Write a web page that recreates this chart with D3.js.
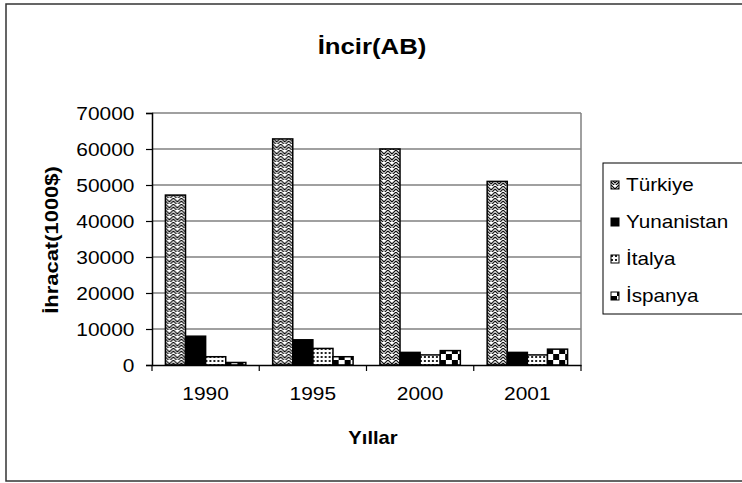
<!DOCTYPE html>
<html>
<head>
<meta charset="utf-8">
<script src="https://cdn.jsdelivr.net/npm/d3@7"></script>
<style>
  body { margin: 0; background: #fff; }
  text { font-family: Arial, "Liberation Sans", sans-serif; fill: #000; }
</style>
</head>
<body>
<svg id="chart" width="742" height="483"></svg>
<script>
const years = ['1990', '1995', '2000', '2001']
const seriesNames = ['Türkiye', 'Yunanistan', 'İtalya', 'İspanya']
const turkiye = [47200, 62800, 60000, 51000]
const yunanistan = [8000, 7000, 3500, 3500]
const italya = [2300, 4600, 2800, 2800]
const ispanya = [700, 2300, 4000, 4400]
const yTicks = [0, 10000, 20000, 30000, 40000, 50000, 60000, 70000]

const values = [turkiye, yunanistan, italya, ispanya]
const SX = 1.1 // the original glyphs are a bit wider than Arial

const svg = d3.select('#chart')
const margin = { top: 113, right: 161, bottom: 118, left: 152 }
const width = 742, height = 483

// patterns
const defs = svg.append('defs')
const weave = defs.append('pattern').attr('id', 'p0')
  .attr('patternUnits', 'userSpaceOnUse').attr('width', 8).attr('height', 6)
weave.append('rect').attr('width', 8).attr('height', 6).attr('fill', '#fff')
weave.append('path').attr('d', 'M0,0 L4,4 L8,0 M0,3 L4,7 L8,3 M-4,3 L0,7 M8,7 L12,3')
  .attr('fill', 'none').attr('stroke', '#000').attr('stroke-width', 1.1)
const dots = defs.append('pattern').attr('id', 'p2')
  .attr('patternUnits', 'userSpaceOnUse').attr('width', 4).attr('height', 4)
dots.append('rect').attr('width', 4).attr('height', 4).attr('fill', '#fff')
dots.append('rect').attr('width', 2).attr('height', 2).attr('fill', '#222')
const checker = defs.append('pattern').attr('id', 'p3')
  .attr('patternUnits', 'userSpaceOnUse').attr('width', 12).attr('height', 12)
checker.append('rect').attr('width', 12).attr('height', 12).attr('fill', '#fff')
checker.append('rect').attr('width', 6).attr('height', 6).attr('fill', '#000')
checker.append('rect').attr('x', 6).attr('y', 6).attr('width', 6).attr('height', 6).attr('fill', '#000')
const fills = ['url(#p0)', '#000', 'url(#p2)', 'url(#p3)']

// outer frame
svg.append('rect')
  .attr('x', 6).attr('y', 4).attr('width', 745).attr('height', 477)
  .attr('fill', 'none').attr('stroke', '#333').attr('stroke-width', 1.5)

const x = d3.scaleBand()
  .domain(years)
  .range([margin.left, width - margin.right])
  .paddingInner(0.25)
  .paddingOuter(0.125)

const xs = d3.scaleBand()
  .domain(seriesNames)
  .range([0, x.bandwidth()])

const y = d3.scaleLinear()
  .domain([0, 70000])
  .range([height - margin.bottom, margin.top])

// gridlines
svg.append('g')
  .selectAll('line')
  .data(yTicks.slice(1))
  .join('line')
  .attr('x1', margin.left).attr('x2', width - margin.right)
  .attr('y1', d => y(d)).attr('y2', d => y(d))
  .attr('stroke', '#808080').attr('stroke-width', 1.5)

svg.append('line')
  .attr('x1', width - margin.right).attr('x2', width - margin.right)
  .attr('y1', y(0)).attr('y2', y(70000))
  .attr('stroke', '#808080').attr('stroke-width', 1.5)

// bars
svg.append('g')
  .selectAll('g')
  .data(years)
  .join('g')
  .attr('transform', d => `translate(${x(d)},0)`)
  .selectAll('rect')
  .data((d, i) => seriesNames.map((s, j) => ({ s, j, v: values[j][i] })))
  .join('rect')
  .attr('x', d => xs(d.s))
  .attr('y', d => y(d.v))
  .attr('width', xs.bandwidth())
  .attr('height', d => y(0) - y(d.v))
  .attr('fill', d => fills[d.j])
  .attr('stroke', '#000')
  .attr('stroke-width', 1.5)

// axes
const xAxis = d3.axisBottom(x).tickSize(0).tickPadding(22)
const gx = svg.append('g')
  .attr('transform', `translate(0,${y(0)})`)
  .call(xAxis)
gx.select('.domain').attr('stroke', '#000').attr('stroke-width', 1.5)
gx.selectAll('.tick text')
  .attr('font-size', 19).attr('transform', `scale(${SX},1)`)
// tick marks between categories
gx.selectAll('.sep')
  .data(years.map((d, i) => i === 0 ? margin.left : x(d) - x.step() * x.paddingInner() / 2).concat([width - margin.right]))
  .join('line')
  .attr('x1', d => d).attr('x2', d => d)
  .attr('y1', 0).attr('y2', 6)
  .attr('stroke', '#000').attr('stroke-width', 1.2)

const gy = svg.append('g')
  .attr('transform', `translate(${margin.left},0)`)
  .call(d3.axisLeft(y).tickValues(yTicks).tickSize(6).tickPadding(10).tickFormat(d3.format('d')))
gy.select('.domain').attr('stroke', '#000').attr('stroke-width', 1.5)
gy.selectAll('.tick line').attr('stroke', '#000').attr('stroke-width', 1.2)
gy.selectAll('.tick text')
  .attr('font-size', 19).attr('transform', `scale(${SX},1)`)

// titles
svg.append('text')
  .attr('transform', `translate(372,54) scale(1.12,1)`)
  .attr('text-anchor', 'middle')
  .attr('font-size', 23).attr('font-weight', 'bold')
  .text('İncir(AB)')

svg.append('text')
  .attr('transform', `translate(58,240) rotate(-90) scale(1.22,1)`)
  .attr('text-anchor', 'middle')
  .attr('font-size', 18).attr('font-weight', 'bold')
  .text('İhracat(1000$)')

svg.append('text')
  .attr('transform', `translate(373,444) scale(1.12,1)`)
  .attr('text-anchor', 'middle')
  .attr('font-size', 18).attr('font-weight', 'bold')
  .text('Yıllar')

// legend
const legend = svg.append('g')
legend.append('rect')
  .attr('x', 603).attr('y', 163).attr('width', 160).attr('height', 151)
  .attr('fill', '#fff').attr('stroke', '#000').attr('stroke-width', 1)
const ly = d3.scalePoint().domain(seriesNames).range([185, 296])
const item = legend.selectAll('g.item')
  .data(seriesNames)
  .join('g')
  .attr('class', 'item')
  .attr('transform', d => `translate(611,${ly(d)})`)
item.append('rect')
  .attr('x', 0).attr('y', -4).attr('width', 8).attr('height', 8)
  .attr('fill', (d, i) => fills[i]).attr('stroke', '#000').attr('stroke-width', 1)
item.append('text')
  .attr('transform', `translate(15,6) scale(1.15,1)`)
  .attr('font-size', 18)
  .text(d => d)
</script>
</body>
</html>
